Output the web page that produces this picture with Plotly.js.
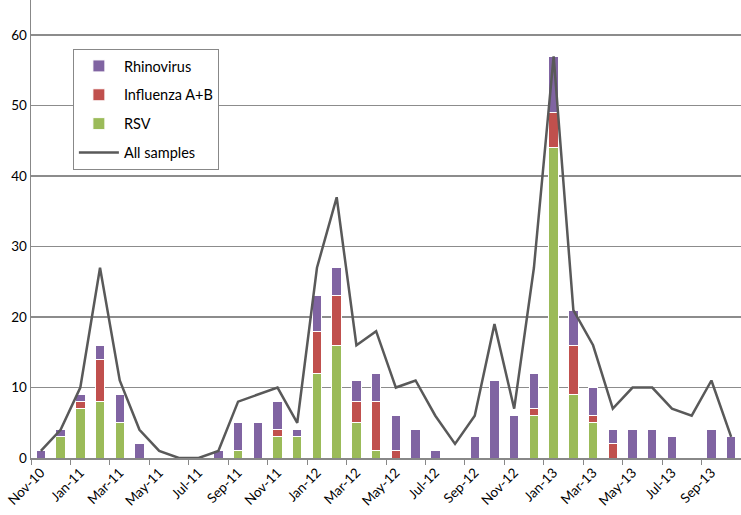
<!DOCTYPE html>
<html>
<head>
<meta charset="utf-8">
<script src="https://cdn.plot.ly/plotly-3.0.1.min.js"></script>
<style>html,body{margin:0;padding:0;background:#fff;}#chart{width:741px;height:515px;}</style>
</head>
<body>
<div id="chart"></div>
<script>
const months = ["Nov-10","Dec-10","Jan-11","Feb-11","Mar-11","Apr-11","May-11","Jun-11","Jul-11","Aug-11","Sep-11","Oct-11",
  "Nov-11","Dec-11","Jan-12","Feb-12","Mar-12","Apr-12","May-12","Jun-12","Jul-12","Aug-12","Sep-12","Oct-12",
  "Nov-12","Dec-12","Jan-13","Feb-13","Mar-13","Apr-13","May-13","Jun-13","Jul-13","Aug-13","Sep-13","Oct-13"];
const rsv        = [0,3,7,8,5,0,0,0,0,0,1,0, 3,3,12,16,5,1,0,0,0,0,0,0, 0,6,44,9,5,0,0,0,0,0,0,0];
const influenza  = [0,0,1,6,0,0,0,0,0,0,0,0, 1,0,6,7,3,7,1,0,0,0,0,0, 0,1,5,7,1,2,0,0,0,0,0,0];
const rhinovirus = [1,1,1,2,4,2,0,0,0,1,4,5, 4,1,5,4,3,4,5,4,1,0,3,11, 6,5,8,5,4,2,4,4,3,0,4,3];
const allSamples = [1,4,10,27,11,4,1,0,0,1,8,9, 10,5,27,37,16,18,10,11,6,2,6,19, 7,27,57,21,16,7,10,10,7,6,11,3];

const idx = months.map((m, i) => i);
const labelIdx = idx.filter(i => i % 2 === 0);
const labelText = labelIdx.map(i => months[i]);

const barLine = {color: '#ffffff', width: 1};
const traces = [
  {type: 'bar', name: 'RSV', x: idx, y: rsv, marker: {color: '#9BBB59', line: barLine}, legendrank: 3, legendgroup: 'c'},
  {type: 'bar', name: 'Influenza A+B', x: idx, y: influenza, marker: {color: '#C0504D', line: barLine}, legendrank: 2, legendgroup: 'b'},
  {type: 'bar', name: 'Rhinovirus', x: idx, y: rhinovirus, marker: {color: '#8064A2', line: barLine}, legendrank: 1, legendgroup: 'a'},
  {type: 'scatter', mode: 'lines', name: 'All samples', x: idx, y: allSamples, line: {color: '#595959', width: 2.5}, legendrank: 4, legendgroup: 'd'}
];

const layout = {
  width: 741, height: 515,
  margin: {l: 31, r: 0, t: 0, b: 57},
  paper_bgcolor: '#ffffff', plot_bgcolor: '#ffffff',
  barmode: 'stack', bargap: 0.52,
  font: {family: 'Lato, "Open Sans", sans-serif', size: 13, color: '#000'},
  showlegend: true,
  legend: {
    x: 0.059, y: 0.893, xanchor: 'left', yanchor: 'top',
    bgcolor: '#ffffff', bordercolor: '#888888', borderwidth: 1,
    font: {size: 14.5, color: '#000'},
    traceorder: 'grouped', tracegroupgap: 7,
    itemwidth: 40
  },
  xaxis: {
    range: [-0.5, 35.5], tickmode: 'array', tickvals: labelIdx, ticktext: labelText,
    tickangle: -45, ticks: '', showgrid: false, zeroline: false,
    showline: true, linecolor: '#888888', linewidth: 1.5,
    tickfont: {size: 13.5, color: '#000'}, automargin: false,
    minor: {tick0: -0.5, dtick: 2, ticks: 'outside', ticklen: 5, tickcolor: '#888888', tickwidth: 1, showgrid: false}
  },
  yaxis: {
    range: [0, 65], dtick: 10, tick0: 0, showgrid: true, gridcolor: '#8c8c8c', gridwidth: 1.5,
    zeroline: false, showline: true, linecolor: '#888888', linewidth: 1.5, ticks: '',
    tickfont: {size: 13.5, color: '#000'}, automargin: false
  }
};

Plotly.newPlot('chart', traces, layout, {displayModeBar: false, staticPlot: true});
</script>
</body>
</html>
